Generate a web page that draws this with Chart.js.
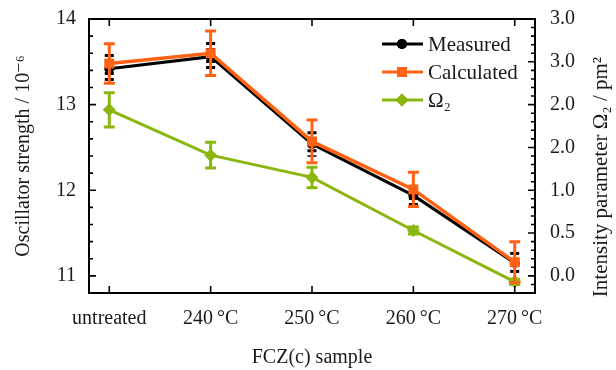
<!DOCTYPE html>
<html><head><meta charset="utf-8">
<script src="https://cdn.jsdelivr.net/npm/chart.js@4.4.1/dist/chart.umd.min.js"></script>
<style>html,body{margin:0;padding:0;background:#fff}#wrap{width:616px;height:370px}</style>
</head><body><div id="wrap"><canvas id="c" width="616" height="370"></canvas></div>
<script>
// ---- data ----
const categories = ['untreated', '240\u2009°C', '250\u2009°C', '260\u2009°C', '270\u2009°C'];
const measured = [13.42, 13.56, 12.54, 11.94, 11.15];
const measuredErr = [0.17, 0.17, 0.15, 0.12, 0.13];
const calculated = [13.48, 13.60, 12.57, 12.01, 11.16];
const calculatedErr = [0.23, 0.26, 0.25, 0.20, 0.24];
const omega2 = [1.94, 1.41, 1.15, 0.53, -0.07];
const omega2Err = [0.20, 0.15, 0.12, 0.04, 0.03];
const leftTickValues = [11, 12, 13, 14];
const rightTickValues = [0, 0.5, 1.0, 1.5, 2.0, 2.5, 3.0];
const rightTickLabels = ['0.0', '0.5', '1.0', '2.0', '2.0', '3.0', '3.0'];
const seriesNames = ['Measured', 'Calculated', 'Ω\u2082'];
const rightTitle = 'Intensity parameter Ω\u2082 / pm\u00B2';

const FAM = "'Liberation Serif', 'DejaVu Serif', serif";
const TXT = '#1a1a1a';
const BLACK = '#000000', ORANGE = '#ff6214', GREEN = '#8ab60f';

const toXY = arr => arr.map((v, i) => ({x: i, y: v}));

const errPlugin = {
  id: 'errbars',
  afterDatasetDraw(chart, args) {
    const ds = chart.data.datasets[args.index];
    if (!ds.errors) return;
    const meta = args.meta;
    const xs = meta.xScale, ys = meta.yScale;
    const ctx = chart.ctx;
    ctx.save();
    ds.data.forEach((p, i) => {
      const e = ds.errors[i];
      const x = xs.getPixelForValue(p.x);
      const yt = ys.getPixelForValue(p.y + e);
      const yb = ys.getPixelForValue(p.y - e);
      ctx.strokeStyle = ds.borderColor;
      if (ds.errDashed) {
        ctx.setLineDash([3, 3]);
        ctx.lineWidth = 9;
        ctx.beginPath(); ctx.moveTo(x, yt); ctx.lineTo(x, yb); ctx.stroke();
        ctx.setLineDash([]);
      } else {
        ctx.lineWidth = 3;
        ctx.beginPath(); ctx.moveTo(x, yt); ctx.lineTo(x, yb); ctx.stroke();
        ctx.beginPath();
        ctx.moveTo(x - 5.5, yt); ctx.lineTo(x + 5.5, yt);
        ctx.moveTo(x - 5.5, yb); ctx.lineTo(x + 5.5, yb);
        ctx.stroke();
      }
    });
    ctx.restore();
  }
};

const framePlugin = {
  id: 'frame',
  afterDatasetsDraw(chart) {
    const {ctx, chartArea: a, scales} = chart;
    ctx.save();
    ctx.strokeStyle = '#000';
    ctx.lineWidth = 2;
    ctx.strokeRect(a.left, a.top, a.right - a.left, a.bottom - a.top);
    ctx.lineWidth = 1.6;
    ctx.beginPath();
    scales.x.ticks.forEach(t => {
      const x = scales.x.getPixelForValue(t.value);
      ctx.moveTo(x, a.bottom); ctx.lineTo(x, a.bottom - 7);
      ctx.moveTo(x, a.top); ctx.lineTo(x, a.top + 7);
    });
    const ly = scales.y;
    for (let k = Math.round(ly.min * 5); k <= Math.round(ly.max * 5); k++) {
      const y = ly.getPixelForValue(k / 5);
      const len = (k % 5 === 0) ? 7 : 4;
      ctx.moveTo(a.left, y); ctx.lineTo(a.left + len, y);
    }
    const ry = scales.y2;
    for (let k = Math.round(ry.min * 10); k <= Math.round(ry.max * 10); k++) {
      const y = ry.getPixelForValue(k / 10);
      const len = (k % 5 === 0) ? 7 : 4;
      ctx.moveTo(a.right, y); ctx.lineTo(a.right - len, y);
    }
    ctx.stroke();
    ctx.restore();
  }
};

const legendPlugin = {
  id: 'customLegend',
  afterDraw(chart) {
    const ctx = chart.ctx;
    ctx.save();
    const rows = [44, 72, 100];
    const styles = [
      {c: BLACK, s: 'circle', r: 5},
      {c: ORANGE, s: 'rect', r: 7},
      {c: GREEN, s: 'rectRot', r: 6.5}
    ];
    rows.forEach((y, i) => {
      const st = styles[i];
      ctx.strokeStyle = st.c; ctx.lineWidth = 3;
      ctx.beginPath(); ctx.moveTo(382, y); ctx.lineTo(423, y); ctx.stroke();
      ctx.fillStyle = st.c;
      Chart.helpers.drawPoint(ctx, {pointStyle: st.s, radius: st.r, borderWidth: 0}, 402, y);
      ctx.fill();
      ctx.fillStyle = TXT;
      ctx.font = "21px " + FAM;
      ctx.textBaseline = 'middle';
      ctx.textAlign = 'left';
      ctx.fillText(seriesNames[i], 428, y + 1);
    });
    // right axis title, reading bottom-to-top
    ctx.translate(601, 177);
    ctx.rotate(-Math.PI / 2);
    ctx.font = "21px " + FAM;
    ctx.textAlign = 'center';
    ctx.textBaseline = 'middle';
    ctx.fillText(rightTitle, 0, 0);
    ctx.restore();
  }
};

const tickFont = {family: FAM, size: 20};

new Chart(document.getElementById('c'), {
  type: 'line',
  data: {
    datasets: [
      {label: seriesNames[0], data: toXY(measured), errors: measuredErr, errDashed: true,
       borderColor: BLACK, backgroundColor: BLACK, borderWidth: 3, pointStyle: 'circle', pointRadius: 5,
       pointBorderWidth: 0, yAxisID: 'y', order: 1},
      {label: seriesNames[1], data: toXY(calculated), errors: calculatedErr,
       borderColor: ORANGE, backgroundColor: ORANGE, borderWidth: 3.5, pointStyle: 'rect', pointRadius: 7,
       pointBorderWidth: 0, yAxisID: 'y', order: 0},
      {label: seriesNames[2], data: toXY(omega2), errors: omega2Err,
       borderColor: GREEN, backgroundColor: GREEN, borderWidth: 3, pointStyle: 'rectRot', pointRadius: 6.5,
       pointBorderWidth: 0, yAxisID: 'y2', order: 2}
    ]
  },
  options: {
    responsive: false, animation: false,
    layout: {padding: {top: 18, left: 0, right: 0, bottom: 0}},
    plugins: {legend: {display: false}, tooltip: {enabled: false}},
    elements: {line: {tension: 0}},
    scales: {
      x: {
        type: 'linear', min: -0.2, max: 4.2, position: 'bottom',
        afterBuildTicks: s => { s.ticks = categories.map((c, i) => ({value: i})); },
        afterFit: s => { s.height = 77; },
        ticks: {callback: v => categories[v], font: tickFont, color: TXT, padding: 6, maxRotation: 0, autoSkip: false},
        grid: {display: false}, border: {display: false},
        title: {display: true, text: 'FCZ(c) sample', font: tickFont, color: TXT, padding: {top: 0, bottom: 0}}
      },
      y: {
        type: 'linear', min: 10.8, max: 14, position: 'left',
        afterBuildTicks: s => { s.ticks = leftTickValues.map(v => ({value: v})); },
        afterFit: s => { s.width = 89; },
        ticks: {font: tickFont, color: TXT, padding: 5, callback: v => String(v)},
        grid: {display: false}, border: {display: false},
        title: {display: true, text: 'Oscillator strength / 10\u207B\u2076', font: tickFont, color: TXT, padding: {top: 12, bottom: 0}}
      },
      y2: {
        type: 'linear', min: -0.2, max: 3.0, position: 'right',
        afterBuildTicks: s => { s.ticks = rightTickValues.map(v => ({value: v})); },
        afterFit: s => { s.width = 81; },
        ticks: {font: tickFont, color: TXT, padding: 7, callback: (v, i) => rightTickLabels[i]},
        grid: {display: false}, border: {display: false},
        title: {display: false}
      }
    }
  },
  plugins: [errPlugin, framePlugin, legendPlugin]
});
</script></body></html>
